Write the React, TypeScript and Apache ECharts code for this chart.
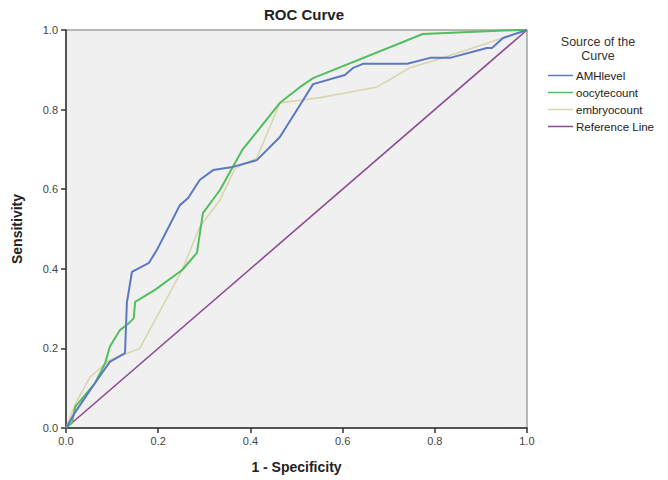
import React, { useEffect, useRef } from "react";
import * as echarts from "echarts";

const seriesNames = ["AMHlevel", "oocytecount", "embryocount", "Reference Line"];

const amhLevel: [number, number][] = [
  [0, 0], [0.02, 0.04], [0.063, 0.113], [0.095, 0.166], [0.128, 0.188], [0.132, 0.314],
  [0.143, 0.392], [0.18, 0.415], [0.197, 0.447], [0.225, 0.51], [0.247, 0.56], [0.265, 0.578],
  [0.29, 0.623], [0.319, 0.648], [0.362, 0.656], [0.414, 0.673], [0.464, 0.731], [0.508, 0.812],
  [0.536, 0.864], [0.605, 0.887], [0.623, 0.905], [0.644, 0.915], [0.74, 0.915], [0.79, 0.93],
  [0.833, 0.93], [0.913, 0.955], [0.924, 0.955], [0.948, 0.98], [1, 1],
];

const oocyteCount: [number, number][] = [
  [0, 0], [0.013, 0.013], [0.02, 0.053], [0.063, 0.113], [0.085, 0.163], [0.095, 0.204],
  [0.117, 0.246], [0.137, 0.264], [0.147, 0.276], [0.15, 0.317], [0.193, 0.347], [0.252, 0.397],
  [0.284, 0.44], [0.297, 0.54], [0.334, 0.598], [0.382, 0.698], [0.464, 0.817], [0.508, 0.857],
  [0.536, 0.879], [0.774, 0.99], [0.98, 1.0], [1, 1],
];

const embryoCount: [number, number][] = [
  [0, 0], [0.02, 0.06], [0.052, 0.128], [0.095, 0.171], [0.16, 0.2], [0.252, 0.397],
  [0.29, 0.505], [0.334, 0.573], [0.367, 0.653], [0.414, 0.678], [0.464, 0.817],
  [0.551, 0.83], [0.675, 0.857], [0.746, 0.905], [0.818, 0.93], [1, 1],
];

const referenceLine: [number, number][] = [[0, 0], [1, 1]];

const tickValues = [0, 0.2, 0.4, 0.6, 0.8, 1.0];

const colors = ["#5b78c2", "#52be5e", "#d9d6ae", "#8e4a92"];

export default function App() {
  const ref = useRef<HTMLDivElement>(null);
  useEffect(() => {
    if (!ref.current) return;
    const chart = echarts.init(ref.current, null, { renderer: "svg" });
    const font = "'Liberation Sans', Arial, sans-serif";
    const datasets = [amhLevel, oocyteCount, embryoCount, referenceLine];
    const widths = [2, 2, 1.6, 1.6];
    const legendTitleStyle = {
      fontFamily: font,
      fontSize: 12.5,
      fill: "#333",
      textAlign: "center",
      textVerticalAlign: "middle",
    };
    chart.setOption({
      animation: false,
      backgroundColor: "#ffffff",
      title: {
        text: "ROC Curve",
        left: 299,
        top: 2,
        textAlign: "center",
        textStyle: { fontFamily: font, fontSize: 15, fontWeight: "bold", color: "#222" },
      },
      grid: {
        left: 66,
        right: 141,
        top: 30,
        bottom: 52,
        show: true,
        backgroundColor: "#f0f0f0",
        borderColor: "#777",
        borderWidth: 1,
      },
      legend: {
        orient: "vertical",
        left: 543,
        top: 64,
        icon: "rect",
        itemWidth: 25,
        itemHeight: 1.5,
        itemGap: 4,
        data: seriesNames,
        textStyle: {
          fontFamily: font,
          fontSize: 11.5,
          lineHeight: 13,
          color: "#222",
          padding: [0, 0, 0, -2],
        },
      },
      graphic: [
        { type: "text", x: 598, y: 42, style: { ...legendTitleStyle, text: "Source of the" } },
        { type: "text", x: 598, y: 56, style: { ...legendTitleStyle, text: "Curve" } },
      ],
      xAxis: {
        type: "value",
        min: 0,
        max: 1,
        interval: 0.2,
        name: "1 - Specificity",
        nameLocation: "middle",
        nameGap: 32,
        nameTextStyle: { fontFamily: font, fontSize: 14, fontWeight: "bold", color: "#222" },
        axisLine: { show: true, lineStyle: { color: "#333", width: 1.5 } },
        axisTick: { show: true, length: 5, lineStyle: { color: "#333", width: 1.5 } },
        axisLabel: {
          fontFamily: font,
          fontSize: 11,
          color: "#444",
          margin: 7,
          formatter: (v: number) => (tickValues.includes(v) ? v.toFixed(1) : ""),
        },
        splitLine: { show: false },
      },
      yAxis: {
        type: "value",
        min: 0,
        max: 1,
        interval: 0.2,
        name: "Sensitivity",
        nameLocation: "middle",
        nameGap: 42,
        nameTextStyle: { fontFamily: font, fontSize: 14, fontWeight: "bold", color: "#222" },
        axisLine: { show: true, lineStyle: { color: "#333", width: 1.5 } },
        axisTick: { show: true, length: 5, lineStyle: { color: "#333", width: 1.5 } },
        axisLabel: {
          fontFamily: font,
          fontSize: 11,
          color: "#444",
          margin: 8,
          formatter: (v: number) => v.toFixed(1),
        },
        splitLine: { show: false },
      },
      series: seriesNames.map((name, i) => ({
        name,
        type: "line",
        data: datasets[i],
        symbol: "none",
        color: colors[i],
        lineStyle: { color: colors[i], width: widths[i] },
        z: 10 - i,
      })),
    });
    return () => chart.dispose();
  }, []);
  return (
    <div
      ref={ref}
      style={{ position: "absolute", left: 0, top: 0, width: 668, height: 480 }}
    />
  );
}
